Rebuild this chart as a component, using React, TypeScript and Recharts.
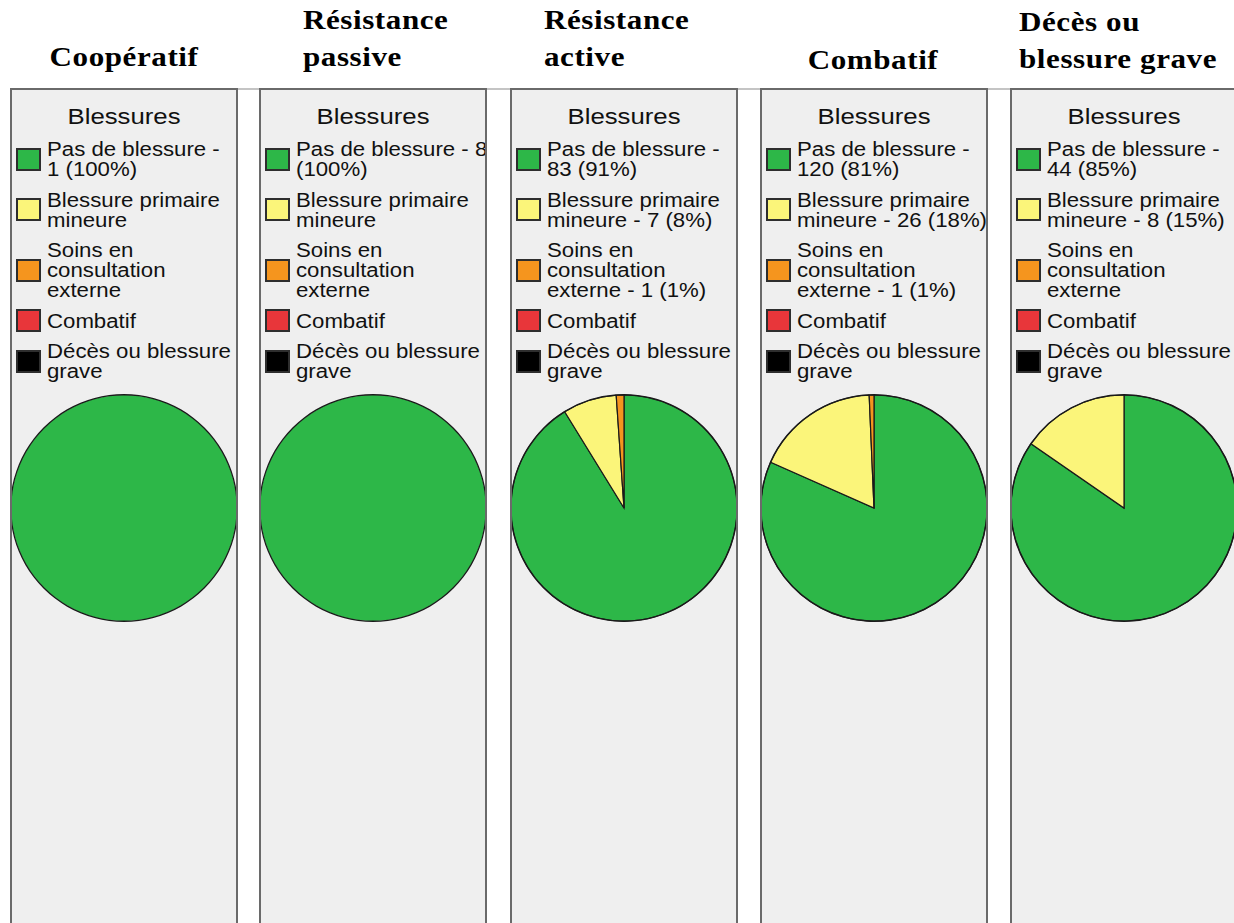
import React from 'react';
import { PieChart, Pie, Cell, Legend } from 'recharts';

// ---------- data ----------
const injuryCategories = [
  'Pas de blessure',
  'Blessure primaire mineure',
  'Soins en consultation externe',
  'Combatif',
  'Décès ou blessure grave',
];
const injuryColors = ['#2db748', '#fbf57a', '#f5951e', '#e8363a', '#000000'];

const panelTitles = [
  ['Coopératif'],
  ['Résistance', 'passive'],
  ['Résistance', 'active'],
  ['Combatif'],
  ['Décès ou', 'blessure grave'],
];

const cooperatifCounts = [1, 0, 0, 0, 0];
const cooperatifPercents = [100, 0, 0, 0, 0];
const passiveCounts = [8, 0, 0, 0, 0];
const passivePercents = [100, 0, 0, 0, 0];
const activeCounts = [83, 7, 1, 0, 0];
const activePercents = [91, 8, 1, 0, 0];
const combatifCounts = [120, 26, 1, 0, 0];
const combatifPercents = [81, 18, 1, 0, 0];
const graveCounts = [44, 8, 0, 0, 0];
const gravePercents = [85, 15, 0, 0, 0];

const panelCounts = [cooperatifCounts, passiveCounts, activeCounts, combatifCounts, graveCounts];
const panelPercents = [cooperatifPercents, passivePercents, activePercents, combatifPercents, gravePercents];

// ---------- layout ----------
const PANEL_LEFTS = [10, 259, 510, 760, 1010];
const PANEL_TOP = 88;
const PANEL_W = 228;
const PANEL_H = 923 - PANEL_TOP;
const PIE_CY = 508 - PANEL_TOP;
const PIE_R = 113;

const TITLE_FONT = 27;
const TITLE_SCALE = 1.15;
const TITLE_LAYOUT = [
  { align: 'center', dx: 114, baselines: [67] },
  { align: 'left', dx: 44, baselines: [30, 67] },
  { align: 'left', dx: 34, baselines: [30, 67] },
  { align: 'center', dx: 113, baselines: [70] },
  { align: 'left', dx: 9, baselines: [32, 69] },
];

const LEG_FONT = 20;
const LEG_SCALE = 1.11;
const LEG_LINE = 20;
const LEG_GAP = 10.5;
const LEG_TOP0 = 51;
const LEG_TEXT_X = 37;
const LEG_WRAP = [171.75, 175, 171.75, 171.75, 171.75];
const SANS = "'Liberation Sans', Arial, sans-serif";
const SERIF = "'Liberation Serif', 'Times New Roman', serif";

let measureCtx: CanvasRenderingContext2D | null = null;
function wrapText(text: string, maxWidth: number): string[] {
  if (!measureCtx) {
    measureCtx = document.createElement('canvas').getContext('2d');
  }
  const ctx = measureCtx as any;
  ctx.font = `${LEG_FONT}px 'Liberation Sans'`;
  try { ctx.fontKerning = 'none'; } catch (e) {}
  const words = text.split(' ');
  const lines: string[] = [];
  let cur = '';
  for (const w of words) {
    const test = cur ? cur + ' ' + w : w;
    if (cur && ctx.measureText(test).width > maxWidth) {
      lines.push(cur);
      cur = w;
    } else {
      cur = test;
    }
  }
  if (cur) lines.push(cur);
  return lines;
}

function InjuryLegend({ panel }: { panel: number }) {
  const counts = panelCounts[panel];
  const pcts = panelPercents[panel];
  let top = LEG_TOP0;
  const items = injuryCategories.map((name, i) => {
    const label = counts[i] > 0 ? `${name} - ${counts[i]} (${pcts[i]}%)` : name;
    const lines = wrapText(label, LEG_WRAP[panel]);
    const h = lines.length * LEG_LINE;
    const item = { name, lines, top, h, color: injuryColors[i] };
    top += h + LEG_GAP;
    return item;
  });
  return (
    <div style={{ position: 'relative', width: PANEL_W, height: 320, fontFamily: SANS, color: '#111' }}>
      <div
        style={{
          position: 'absolute', left: 0, top: 17, width: PANEL_W, textAlign: 'center',
          fontSize: 22, lineHeight: '24px', transform: `scaleX(1.17)`, transformOrigin: '50% 50%',
          whiteSpace: 'nowrap',
        }}
      >
        Blessures
      </div>
      {items.map((it) => (
        <React.Fragment key={it.name}>
          <div
            style={{
              position: 'absolute', left: 6, top: it.top + it.h / 2 - 11.5, width: 25, height: 23,
              boxSizing: 'border-box', background: it.color, border: '2px solid #2e2e2e',
            }}
          />
          {it.lines.map((ln, k) => (
            <div
              key={k}
              style={{
                position: 'absolute', left: LEG_TEXT_X, top: it.top + k * LEG_LINE,
                fontSize: LEG_FONT, lineHeight: `${LEG_LINE}px`, whiteSpace: 'nowrap',
                transform: `scaleX(${LEG_SCALE})`, transformOrigin: '0 50%', fontKerning: 'none',
              }}
            >
              {ln}
            </div>
          ))}
        </React.Fragment>
      ))}
    </div>
  );
}

function PanelTitle({ panel }: { panel: number }) {
  const lay = TITLE_LAYOUT[panel];
  const left = PANEL_LEFTS[panel];
  const baselineOffset = 22.6;
  return (
    <>
      {panelTitles[panel].map((line, k) => {
        const top = lay.baselines[k] - baselineOffset;
        const style: React.CSSProperties = {
          position: 'absolute', top, fontFamily: SERIF, fontWeight: 'bold', fontSize: TITLE_FONT,
          lineHeight: `${TITLE_FONT}px`, whiteSpace: 'nowrap', color: '#000', letterSpacing: 0.5,
        };
        if (lay.align === 'center') {
          return (
            <div key={k} style={{ ...style, left: left + lay.dx - 150, width: 300, textAlign: 'center',
              transform: `scaleX(${TITLE_SCALE})`, transformOrigin: '50% 50%' }}>
              {line}
            </div>
          );
        }
        return (
          <div key={k} style={{ ...style, left: left + lay.dx, transform: `scaleX(${TITLE_SCALE})`, transformOrigin: '0 50%' }}>
            {line}
          </div>
        );
      })}
    </>
  );
}

function Panel({ panel }: { panel: number }) {
  const counts = panelCounts[panel];
  const pieData = injuryCategories
    .map((name, i) => ({ name, value: counts[i], color: injuryColors[i] }))
    .filter((d) => d.value > 0);
  const multi = pieData.length > 1;
  return (
    <div
      style={{
        position: 'absolute', left: PANEL_LEFTS[panel], top: PANEL_TOP, width: PANEL_W, height: PANEL_H,
        background: '#efefef',
      }}
    >
      <PieChart width={PANEL_W} height={PANEL_H} margin={{ top: 0, right: 0, bottom: 0, left: 0 }}>
        <Pie
          data={pieData}
          dataKey="value"
          nameKey="name"
          cx={PANEL_W / 2}
          cy={PIE_CY}
          outerRadius={PIE_R}
          startAngle={90}
          endAngle={-270}
          isAnimationActive={false}
        >
          {pieData.map((d) => (
            <Cell key={d.name} fill={d.color} stroke={multi ? '#1a1a1a' : 'none'} strokeWidth={1.2} />
          ))}
        </Pie>
        <Pie
          data={pieData}
          dataKey="value"
          nameKey="name"
          cx={PANEL_W / 2}
          cy={PIE_CY}
          innerRadius={PIE_R - 0.4}
          outerRadius={PIE_R + 0.9}
          startAngle={90}
          endAngle={-270}
          fill="#1a1a1a"
          stroke="none"
          legendType="none"
          isAnimationActive={false}
        />
        <Legend
          layout="horizontal"
          verticalAlign="middle"
          align="center"
          wrapperStyle={{ top: 0, left: 0, width: PANEL_W, height: 320 }}
          content={() => <InjuryLegend panel={panel} />}
        />
      </PieChart>
      <div
        style={{
          position: 'absolute', left: 0, top: 0, width: PANEL_W, height: PANEL_H, boxSizing: 'border-box',
          borderLeft: '2px solid #6a6a6a', borderRight: '2px solid #6a6a6a', borderTop: '2px solid #6a6a6a',
          pointerEvents: 'none',
        }}
      />
    </div>
  );
}

export default function App() {
  return (
    <div
      style={{
        position: 'absolute', left: 0, top: 0, width: 1234, height: 923, overflow: 'hidden', background: '#ffffff',
      }}
    >
      <div style={{ position: 'absolute', left: 10, top: PANEL_TOP, width: 1224, height: 2, background: '#c4c4c4' }} />
      {panelTitles.map((_, p) => (
        <PanelTitle key={`t${p}`} panel={p} />
      ))}
      {panelTitles.map((_, p) => (
        <Panel key={`p${p}`} panel={p} />
      ))}
    </div>
  );
}
